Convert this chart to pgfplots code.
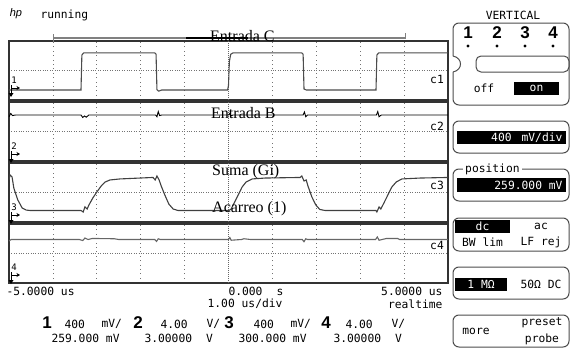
\documentclass[border=0pt]{standalone}
\usepackage{pgfplots}
\pgfplotsset{compat=1.18}
\usetikzlibrary{arrows.meta}
\usepackage{fontspec}
\setmainfont{Liberation Serif}
\newfontfamily\mono{DejaVu Sans Mono}
\newfontfamily\hsans{Liberation Sans}
\newcommand\mt{\mono\fontsize{11.3}{13}\selectfont}
\newcommand\bigd{\hsans\bfseries\fontsize{17}{19}\selectfont}
\newcommand\lab{\fontsize{16}{18}\selectfont}

\pgfplotsset{
  osc/.style={
    scale only axis, width=439pt, height=59pt, anchor=north west,
    xmin=-5, xmax=5, ymin=-2, ymax=2,
    axis line style={black!80, line width=1.3pt},
    xtick={-4,-3,-2,-1,1,2,3,4}, ytick={0},
    xticklabels={}, yticklabels={},
    major tick length=0pt,
    xmajorgrids, ymajorgrids,
    x grid style={black!55, line width=0.7pt, dash pattern=on 0.8pt off 3.6pt},
    y grid style={black!55, line width=0.7pt, dash pattern=on 0.8pt off 1.6pt},
    clip=true,
  },
  trace/.style={line width=1.1pt},
}
\newcommand\zeroline{\draw[black!60, line width=0.8pt, dash pattern=on 0.8pt off 1.2pt] (axis cs:0,-2) -- (axis cs:0,2);}

\begin{document}
\begin{tikzpicture}
\path[use as bounding box] (0,0) rectangle (571pt,-362pt);

% ---- channel 1
\begin{axis}[osc, at={(9pt,-41pt)}]
\zeroline
\addplot[trace, black!70] coordinates {
(-5,-1.32) (-3.36,-1.32) (-3.34,1.05) (-3.30,1.19) (-1.68,1.19) (-1.65,1.1)
(-1.63,-1.3) (-1.59,-1.4) (-1.52,-1.32) (-0.02,-1.32) (0.0,-1.0) (0.02,0.6)
(0.05,1.1) (0.1,1.19) (1.67,1.19) (1.70,1.1) (1.72,-1.25) (1.77,-1.32)
(3.36,-1.32) (3.38,1.05) (3.42,1.19) (5,1.19)};
\end{axis}

% ---- channel 2
\begin{axis}[osc, at={(9pt,-102pt)}]
\zeroline
\addplot[trace, black, line width=0.9pt] coordinates {
(-5,1.0) (-4.96,1.22) (-4.92,1.08) (-4.85,1.12)
(-3.36,1.12) (-3.32,0.95) (-3.28,1.05) (-3.24,0.97) (-3.18,1.12)
(-1.66,1.12) (-1.63,1.0) (-1.60,1.35) (-1.57,1.08) (-1.52,1.12)
(0,1.12) (0.03,1.22) (0.06,1.06) (0.1,1.12)
(1.70,1.12) (1.73,1.32) (1.76,1.0) (1.80,1.12)
(3.37,1.12) (3.40,1.35) (3.43,1.0) (3.48,1.12) (5,1.12)};
\end{axis}

% ---- channel 3
\begin{axis}[osc, at={(9pt,-163pt)}]
\zeroline
\addplot[trace, black!75] coordinates {
(-5,0.85) (-4.977,1.19) (-4.93,1.05) (-4.89,0.3) (-4.80,-0.5) (-4.70,-1.05)
(-4.61,-1.19) (-4.52,-1.22) (-3.36,-1.22)
(-3.31,-1.32) (-3.27,-0.97) (-3.22,-1.12) (-3.18,-0.85) (-3.09,-0.37)
(-3.0,0.03) (-2.90,0.44) (-2.81,0.71) (-2.70,0.85) (-2.47,0.92) (-2.02,0.98)
(-1.72,1.02) (-1.67,0.85) (-1.63,1.12) (-1.58,0.85) (-1.54,0.5) (-1.45,-0.17)
(-1.36,-0.78) (-1.26,-1.12) (-1.15,-1.22) (0.01,-1.22)
(0.06,-1.12) (0.13,-0.71) (0.22,-0.17) (0.31,0.37) (0.40,0.71) (0.54,0.92)
(0.83,0.98) (1.63,1.02) (1.67,1.12) (1.72,0.78) (1.77,0.85) (1.81,0.44)
(1.90,-0.31) (1.99,-0.85) (2.08,-1.15) (2.20,-1.22) (3.36,-1.22)
(3.38,-1.32) (3.43,-0.98) (3.47,-1.12) (3.54,-0.71) (3.63,-0.17) (3.72,0.37)
(3.82,0.71) (3.95,0.92) (4.36,0.98) (5,1.02)};
\end{axis}

% ---- channel 4
\begin{axis}[osc, at={(9pt,-224pt)}]
\zeroline
\addplot[trace, black!60] coordinates {
(-5,0.85) (-4.95,0.95) (-3.4,0.95) (-3.32,0.88) (-3.27,1.05) (-3.2,0.95)
(-3.1,1.02) (-2.6,1.0) (-2.5,0.95) (-1.68,0.95) (-1.64,0.82) (-1.6,1.0)
(-1.55,0.95) (0.0,0.95) (0.03,1.08) (0.06,0.9) (0.3,0.95) (0.35,1.0)
(0.5,0.95) (1.68,0.95) (1.72,0.8) (1.76,1.0) (1.8,0.95) (3.35,0.95)
(3.39,1.12) (3.43,0.9) (3.5,0.95) (3.6,1.02) (3.85,1.02) (3.9,0.95) (5,0.95)};
\end{axis}

\begin{scope}[x=1pt,y=-1pt]
% header
\node[font=\hsans\itshape\fontsize{11}{12}\selectfont] at (16,14) {hp};
\node[anchor=west, font=\mt] at (37,15) {running};

% top bar
\draw[black!50, line width=1.2pt] (53,38) -- (405,38);
\draw[black!50, line width=1pt] (53,34) -- (53,42);
\draw[black!50, line width=1pt] (405,33) -- (405,39);
\node[anchor=west, font=\lab, inner sep=0pt] at (210,36) {Entrada C};
\draw[black, line width=2pt] (186,38) -- (248,38);

% trace labels
\node[anchor=west, font=\lab, inner sep=0pt] at (211,113) {Entrada B};
\node[anchor=west, font=\lab, inner sep=0pt] at (212,172) {Suma (Gi)};
\node[anchor=west, font=\lab, inner sep=0pt] at (212,209) {Acarreo (1)};

% channel tags
\node[font=\mt] at (437,79) {c1};
\node[font=\mt] at (437,126) {c2};
\node[font=\mt] at (437,185) {c3};
\node[font=\mt] at (437,245) {c4};

% ground markers
\foreach \d/\yy in {1/80,2/146,3/207,4/267}{
  \node[font=\mono\fontsize{9}{10}\selectfont, inner sep=0pt] at (14,\yy) {\d};
  \draw[line width=1pt] (11,\yy+5) -- (11,\yy+13);
  \draw[line width=1pt, -{Stealth[length=3.5pt,width=4pt]}] (11,\yy+8) -- (20,\yy+8);
  \fill (8.5,\yy+13) -- (13.5,\yy+13) -- (11,\yy+17) -- cycle;
}

% time labels
\node[anchor=west, font=\mt] at (3,291) {-5.0000 us};
\node[anchor=west, font=\mt] at (225,291) {0.000\hspace{14pt}s};
\node[anchor=east, font=\mt] at (446,291) {5.0000 us};
\node[anchor=east, font=\mt] at (286,304) {1.00 us/div};
\node[anchor=east, font=\mt] at (446,304) {realtime};

% channel settings
\node[font=\bigd] at (47,323) {1};
\node[anchor=west, font=\mt] at (61,324) {400};
\node[anchor=west, font=\mt] at (98,324) {mV/};
\node[font=\bigd] at (138,323) {2};
\node[anchor=west, font=\mt] at (157,324) {4.00};
\node[anchor=west, font=\mt] at (203,324) {V/};
\node[font=\bigd] at (229,323) {3};
\node[anchor=west, font=\mt] at (250,324) {400};
\node[anchor=west, font=\mt] at (287,324) {mV/};
\node[font=\bigd] at (326,323) {4};
\node[anchor=west, font=\mt] at (342,324) {4.00};
\node[anchor=west, font=\mt] at (388,324) {V/};
\node[anchor=west, font=\mt] at (48,338) {259.000 mV};
\node[anchor=west, font=\mt] at (141,338) {3.00000\hspace{14pt}V};
\node[anchor=west, font=\mt] at (235,338) {300.000 mV};
\node[anchor=west, font=\mt] at (330,338) {3.00000\hspace{14pt}V};

% ---- right panel
\node[font=\mt] at (513,15) {VERTICAL};
\draw[black!70, line width=1pt, rounded corners=6pt] (453,56) -- (453,23) -- (569,23) -- (569,105) -- (453,105) -- (453,72);
\draw[black!70, line width=1pt] (453,56) .. controls (463,58) and (463,70) .. (453,72);
\draw[black!70, line width=1pt, rounded corners=5pt] (476,56) rectangle (569,72);
\foreach \d/\xx in {1/468,2/497,3/525,4/553}{
  \node[font=\bigd] at (\xx,33) {\d};
  \fill (\xx,46) circle (1.6);
}
\node[font=\mt] at (484,88) {off};
\fill (514,82) rectangle (559,95);
\node[font=\mt, text=white] at (536.5,88.5) {on};

\draw[black!70, line width=1pt, rounded corners=6pt] (453,121) rectangle (569,153);
\fill (457,131) rectangle (566,144);
\node[anchor=east, font=\mt, text=white] at (566,137.5) {400\hspace{10pt}mV/div};

\draw[black!70, line width=1pt, rounded corners=6pt] (453,169) rectangle (569,201);
\node[fill=white, font=\mt, inner sep=2pt, anchor=west] at (463,169) {position};
\fill (457,178) rectangle (566,192);
\node[anchor=east, font=\mt, text=white] at (566,185) {259.000 mV};

\draw[black!70, line width=1pt, rounded corners=6pt] (453,218) rectangle (569,251);
\fill (455,220) rectangle (510,233);
\node[font=\mt, text=white] at (482.5,226.5) {dc};
\node[font=\mt] at (541,226.5) {ac};
\node[font=\mt] at (482.5,242) {BW lim};
\node[font=\mt] at (541,242) {LF rej};

\draw[black!70, line width=1pt, rounded corners=6pt] (453,267) rectangle (569,299);
\fill (455,278) rectangle (507,291);
\node[font=\mt, text=white] at (481,284.5) {1 MΩ};
\node[font=\mt] at (541,284.5) {50Ω DC};

\draw[black!70, line width=1pt, rounded corners=6pt] (453,315) rectangle (569,347);
\node[font=\mt] at (476,331) {more};
\node[font=\mt] at (542,323) {preset};
\node[font=\mt] at (542,339) {probe};
\end{scope}
\end{tikzpicture}
\end{document}
